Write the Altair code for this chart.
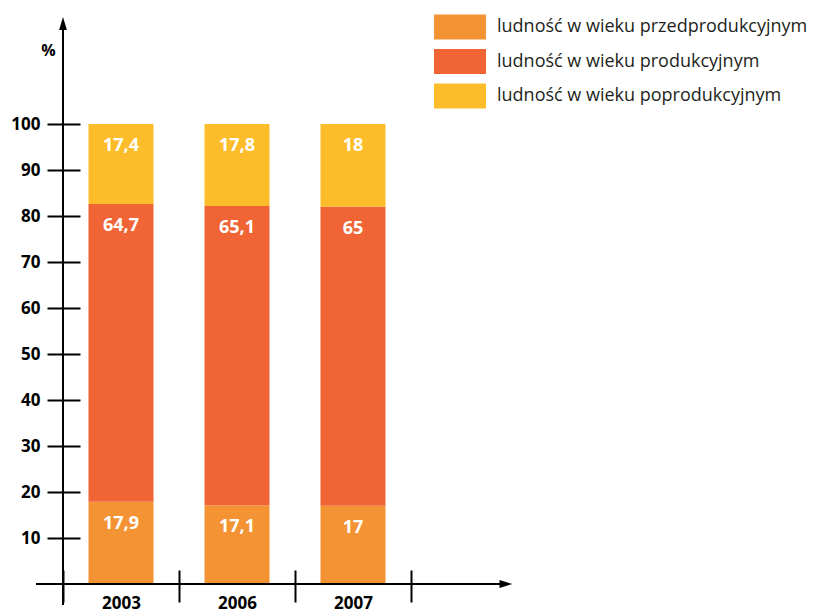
import altair as alt
import pandas as pd

years = ["2003", "2006", "2007"]
groups = [
    "ludność w wieku przedprodukcyjnym",
    "ludność w wieku produkcyjnym",
    "ludność w wieku poprodukcyjnym",
]
przed = [17.9, 17.1, 17]
prod = [64.7, 65.1, 65]
post = [17.4, 17.8, 18]
colors = ["#F39333", "#F06435", "#FDBD2B"]
y_ticks = [10, 20, 30, 40, 50, 60, 70, 80, 90, 100]

rows = []
for gi, (g, vals) in enumerate(zip(groups, [przed, prod, post])):
    for y, v in zip(years, vals):
        rows.append({"year": y, "group": g, "order": gi, "value": v,
                     "label": (f"{v:g}").replace(".", ",")})
df = pd.DataFrame(rows)

FONT = "Open Sans"

x_enc = alt.X("year:N", sort=years,
              scale=alt.Scale(paddingInner=0, paddingOuter=0),
              axis=alt.Axis(title=None, domain=False, offset=-14, tickSize=32,
                            tickWidth=2, tickColor="black", tickBand="extent",
                            labelAngle=0, labelFontSize=17, labelFontWeight="bold",
                            labelFont=FONT, labelColor="black", labelPadding=-7))
y_scale = alt.Scale(domain=[0, 100], nice=False)

bars = alt.Chart(df).mark_bar(size=65).encode(
    x=x_enc,
    y=alt.Y("value:Q", stack="zero", scale=y_scale,
            axis=alt.Axis(values=y_ticks, offset=-17, domain=False, tickSize=33,
                          tickWidth=2, tickColor="black", grid=False,
                          labelFontSize=17, labelFontWeight="bold", labelFont=FONT,
                          labelColor="black", labelPadding=7,
                          title="%", titleAngle=0, titleX=-32, titleY=-74,
                          titleAlign="center", titleBaseline="middle",
                          titleFontSize=16, titleFontWeight="bold", titleFont=FONT,
                          titleColor="black")),
    color=alt.Color("group:N", sort=groups,
                    scale=alt.Scale(domain=groups, range=colors),
                    legend=alt.Legend(title=None, orient="none", legendX=380,
                                      legendY=-114,
                                      symbolType="M-1.53,-0.735H1.53V0.735H-1.53Z",
                                      symbolSize=1156, symbolStrokeWidth=0,
                                      symbolOpacity=1,
                                      labelFont=FONT, labelFontSize=18,
                                      labelColor="#231F20", labelOffset=20,
                                      rowPadding=4.5, padding=0, labelLimit=400)),
    order=alt.Order("order:Q"),
)

texts = alt.Chart(df).transform_stack(
    stack="value", groupby=["year"], as_=["lo", "hi"],
    sort=[alt.SortField("order", "ascending")]
).mark_text(dy=22, color="white", fontWeight="bold", fontSize=18, font=FONT,
            baseline="middle").encode(
    x=alt.X("year:N", sort=years),
    y=alt.Y("hi:Q"),
    text="label:N",
)

one = pd.DataFrame({"a": [0]})
x_line = alt.Chart(one).mark_rule(color="black", strokeWidth=2).encode(
    x=alt.value(-27), x2=alt.value(440), y=alt.datum(0))
x_arrow = alt.Chart(one).mark_point(shape="M-1,-0.6L1,0L-1,0.6Z", filled=True,
                                    size=169, color="black", opacity=1).encode(
    x=alt.value(443), y=alt.datum(0))
y_line = alt.Chart(one).mark_rule(color="black", strokeWidth=2).encode(
    x=alt.value(0), y=alt.value(-100), y2=alt.value(481))
y_arrow = alt.Chart(one).mark_point(shape="M-0.6,1L0,-1L0.6,1Z", filled=True,
                                    size=169, color="black", opacity=1).encode(
    x=alt.value(0), y=alt.value(-100.5))

chart = alt.layer(bars, texts, x_line, x_arrow, y_line, y_arrow).properties(
    width=348, height=460,
    autosize=alt.AutoSizeParams(type="none"),
    padding={"left": 55, "top": 116, "right": 397, "bottom": 29},
).configure_view(stroke=None)

chart.save("out.html", embed_options={"renderer": "svg", "actions": False})
